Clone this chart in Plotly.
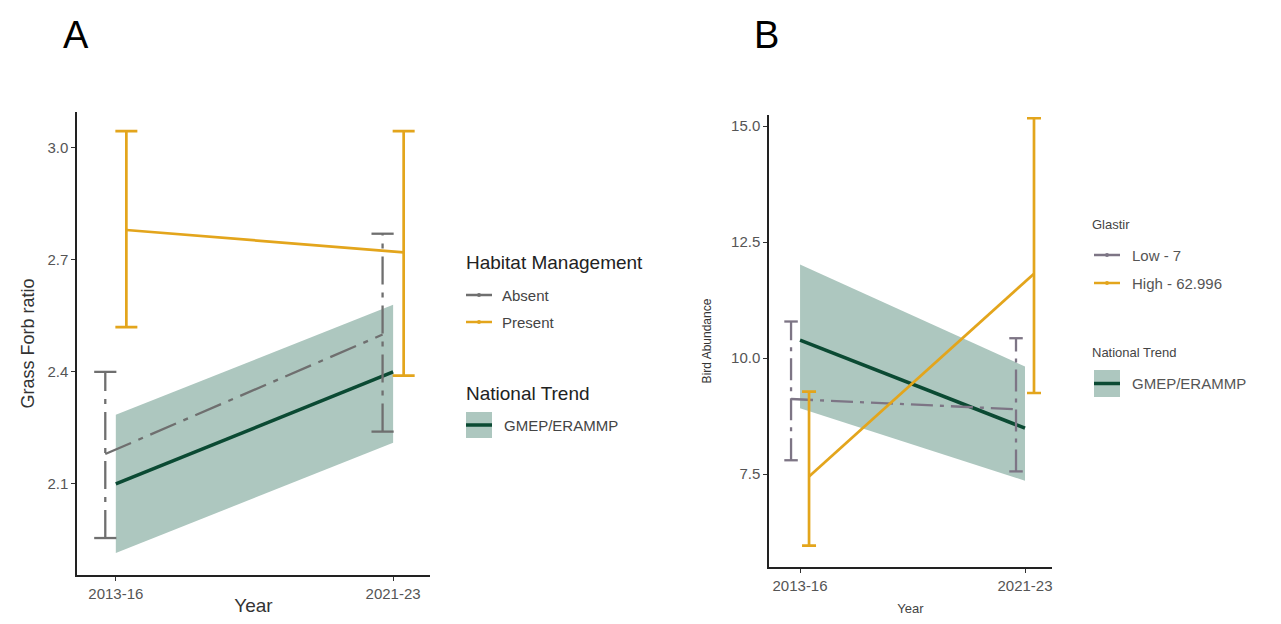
import numpy as np
import plotly.graph_objects as go

# --- data -------------------------------------------------------------
years = ["2013-16", "2021-23"]

# Panel A: Grass Forb ratio by habitat management
a_absent_mean = [2.18, 2.50]
a_absent_lo = [1.955, 2.24]
a_absent_hi = [2.40, 2.77]
a_present_mean = [2.78, 2.72]
a_present_lo = [2.52, 2.39]
a_present_hi = [3.045, 3.045]
a_trend = [2.10, 2.40]
a_trend_lo = [1.915, 2.21]
a_trend_hi = [2.285, 2.58]

# Panel B: Bird Abundance by Glastir
b_low_mean = [9.12, 8.90]
b_low_lo = [7.80, 7.56]
b_low_hi = [10.79, 10.43]
b_high_mean = [7.45, 11.82]
b_high_lo = [5.96, 9.25]
b_high_hi = [9.28, 15.17]
b_trend = [10.39, 8.49]
b_trend_lo = [8.92, 7.36]
b_trend_hi = [12.02, 9.82]

GREY_A = "#6f6f6f"
GREY_B = "#7d7585"
GOLD = "#e3a51c"
GREEN = "#0b4a33"
RIBBON = "#adc7bf"
FONT = "Liberation Sans, Arial, sans-serif"

# page body has an 8px margin: size the figure so it fits the window
PAD = 8
W, H = 1281 - 2 * PAD, 624 - 2 * PAD


def px(x):
    return (x - PAD) / W


def py(y):
    return 1 - (y - PAD) / H


xpos = np.arange(len(years))


def dashed_bars(x, lo, hi, cap):
    xs, ys = [], []
    for xi, l, h in zip(x, lo, hi):
        xs += [xi, xi, None, xi - cap, xi + cap, None, xi - cap, xi + cap, None]
        ys += [l, h, None, l, l, None, h, h, None]
    return xs, ys


def add_panel(fig, xa, ya, mean_g, lo_g, hi_g, mean_y, lo_y, hi_y,
              trend, t_lo, t_hi, dodge, cap, ecap, grey, dash):
    # national trend ribbon + line
    fig.add_trace(go.Scatter(x=xpos, y=t_lo, mode="lines", line=dict(width=0),
                             xaxis=xa, yaxis=ya, showlegend=False, hoverinfo="skip"))
    fig.add_trace(go.Scatter(x=xpos, y=t_hi, mode="lines", line=dict(width=0),
                             fill="tonexty", fillcolor=RIBBON,
                             xaxis=xa, yaxis=ya, showlegend=False, hoverinfo="skip"))
    fig.add_trace(go.Scatter(x=xpos, y=trend, mode="lines",
                             line=dict(color=GREEN, width=3.5),
                             xaxis=xa, yaxis=ya, showlegend=False))
    # grey group (dash-dot)
    xg = xpos - dodge
    bx, by = dashed_bars(xg, lo_g, hi_g, cap)
    fig.add_trace(go.Scatter(x=bx, y=by, mode="lines",
                             line=dict(color=grey, width=2.3, dash=dash),
                             xaxis=xa, yaxis=ya, showlegend=False, hoverinfo="skip"))
    fig.add_trace(go.Scatter(x=xg, y=mean_g, mode="lines",
                             line=dict(color=grey, width=2.3, dash=dash),
                             xaxis=xa, yaxis=ya, showlegend=False))
    # gold group
    xy = xpos + dodge
    fig.add_trace(go.Scatter(
        x=xy, y=mean_y, mode="lines", line=dict(color=GOLD, width=2.7),
        error_y=dict(type="data", symmetric=False,
                     array=np.array(hi_y) - np.array(mean_y),
                     arrayminus=np.array(mean_y) - np.array(lo_y),
                     color=GOLD, thickness=2.7, width=ecap),
        xaxis=xa, yaxis=ya, showlegend=False))


fig = go.Figure()
add_panel(fig, "x", "y", a_absent_mean, a_absent_lo, a_absent_hi,
          a_present_mean, a_present_lo, a_present_hi,
          a_trend, a_trend_lo, a_trend_hi, 0.038, 0.04, 11, GREY_A, "28px,8px,5px,8px")
add_panel(fig, "x2", "y2", b_low_mean, b_low_lo, b_low_hi,
          b_high_mean, b_high_lo, b_high_hi,
          b_trend, b_trend_lo, b_trend_hi, 0.04, 0.03, 7, GREY_B, "22px,7px,4px,7px")

axis_common = dict(showline=True, linecolor="#222222", linewidth=1.5, ticks="outside",
                   ticklen=4, tickcolor="#333333", showgrid=False, zeroline=False,
                   automargin=False,
                   tickfont=dict(family=FONT, size=15, color="#555555"))

fig.update_layout(
    width=W, height=H, margin=dict(l=0, r=0, t=0, b=0),
    paper_bgcolor="white", plot_bgcolor="white", showlegend=False,
    xaxis=dict(domain=[px(77), px(430)], range=[-0.14, 1.133], tickvals=xpos,
               ticktext=years, anchor="y",
               title=dict(text="Year", font=dict(family=FONT, size=19, color="#333333"),
                          standoff=10), **axis_common),
    yaxis=dict(domain=[py(575), py(112)], range=[1.856, 3.096],
               tickvals=[2.1, 2.4, 2.7, 3.0], tickformat=".1f", anchor="x",
               title=dict(text="Grass Forb ratio", font=dict(family=FONT, size=18, color="#333333"),
                          standoff=8), **axis_common),
    xaxis2=dict(domain=[px(769), px(1052)], range=[-0.138, 1.12], tickvals=xpos,
                ticktext=years, anchor="y2",
                title=dict(text="Year", font=dict(family=FONT, size=13, color="#444444"),
                           standoff=12), **axis_common),
    yaxis2=dict(domain=[py(567), py(115)], range=[5.5, 15.24],
                tickvals=[7.5, 10.0, 12.5, 15.0], tickformat=".1f", anchor="x2",
                title=dict(text="Bird Abundance", font=dict(family=FONT, size=12, color="#333333"),
                           standoff=17), **axis_common),
)

# panel letters
for letter, x in [("A", 76), ("B", 766)]:
    fig.add_annotation(text=letter, x=px(x), y=py(35), xref="paper", yref="paper",
                       xanchor="center", yanchor="middle", showarrow=False,
                       font=dict(family=FONT, size=38, color="black"))


def legend_text(text, x, y, size, color="#333333"):
    fig.add_annotation(text=text, x=px(x), y=py(y), xref="paper", yref="paper",
                       xanchor="left", yanchor="middle", showarrow=False,
                       font=dict(family=FONT, size=size, color=color))


def legend_line(x0, x1, y, color):
    fig.add_shape(type="line", xref="paper", yref="paper", x0=px(x0), x1=px(x1),
                  y0=py(y), y1=py(y), line=dict(color=color, width=2.5))
    xm = (x0 + x1) / 2
    fig.add_shape(type="circle", xref="paper", yref="paper", x0=px(xm - 2), x1=px(xm + 2),
                  y0=py(y - 2), y1=py(y + 2), fillcolor=color, line=dict(width=0))


def legend_box(x0, x1, y0, y1):
    fig.add_shape(type="rect", xref="paper", yref="paper", x0=px(x0), x1=px(x1),
                  y0=py(y1), y1=py(y0), fillcolor=RIBBON, line=dict(width=0))
    fig.add_shape(type="line", xref="paper", yref="paper", x0=px(x0), x1=px(x1),
                  y0=py((y0 + y1) / 2), y1=py((y0 + y1) / 2), line=dict(color=GREEN, width=3.5))


# legend panel A
legend_text("Habitat Management", 464, 262, 19, "#222222")
legend_line(466, 492, 295, GREY_A)
legend_text("Absent", 500, 295, 15, "#444444")
legend_line(466, 492, 322, GOLD)
legend_text("Present", 500, 322, 15, "#444444")
legend_text("National Trend", 464, 393, 19, "#222222")
legend_box(466, 492, 412, 438)
legend_text("GMEP/ERAMMP", 502, 425, 15, "#444444")

# legend panel B
legend_text("Glastir", 1090, 224, 13, "#444444")
legend_line(1094, 1120, 255, GREY_B)
legend_text("Low - 7", 1130, 255, 15, "#555555")
legend_line(1094, 1120, 283, GOLD)
legend_text("High - 62.996", 1130, 283, 15, "#555555")
legend_text("National Trend", 1090, 352, 13, "#444444")
legend_box(1094, 1120, 370, 397)
legend_text("GMEP/ERAMMP", 1130, 383, 15, "#555555")

fig.write_html("out.html")
